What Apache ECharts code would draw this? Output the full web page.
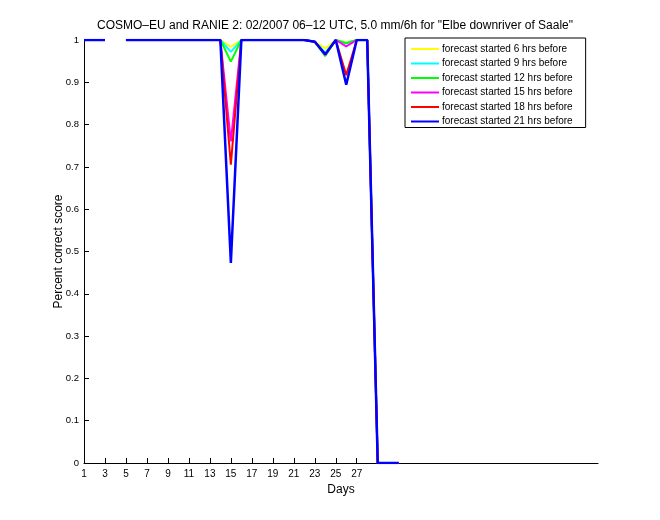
<!DOCTYPE html>
<html><head><meta charset="utf-8">
<script src="https://cdn.jsdelivr.net/npm/echarts@6/dist/echarts.min.js"></script>
<style>html,body{margin:0;padding:0;background:#fff}#c{width:660px;height:520px}</style>
</head><body><div id="c"></div>
<script>
const days = [1,2,3,4,5,6,7,8,9,10,11,12,13,14,15,16,17,18,19,20,21,22,23,24,25,26,27,28,29,30,31];
const xTicks = [1,3,5,7,9,11,13,15,17,19,21,23,25,27];
const seriesNames = ['forecast started 6 hrs before','forecast started 9 hrs before','forecast started 12 hrs before','forecast started 15 hrs before','forecast started 18 hrs before','forecast started 21 hrs before'];
const colors = ['#ffff00','#00ffff','#00ff00','#ff00ff','#ff0000','#0000ff'];
const s6  = [1,1,1,null,1,1,1,1,1,1,1,1,1,1,0.984,1,1,1,1,1,1,1,0.996,0.980,1,0.995,1,1,0,0,0];
const s9  = [1,1,1,null,1,1,1,1,1,1,1,1,1,1,0.972,1,1,1,1,1,1,1,0.996,0.970,1,0.993,1,1,0,0,0];
const s12 = [1,1,1,null,1,1,1,1,1,1,1,1,1,1,0.949,1,1,1,1,1,1,1,0.996,0.962,1,0.992,1,1,0,0,0];
const s15 = [1,1,1,null,1,1,1,1,1,1,1,1,1,1,0.760,1,1,1,1,1,1,1,0.996,0.965,1,0.985,1,1,0,0,0];
const s18 = [1,1,1,null,1,1,1,1,1,1,1,1,1,1,0.705,1,1,1,1,1,1,1,0.996,0.966,1,0.917,1,1,0,0,0];
const s21 = [1,1,1,null,1,1,1,1,1,1,1,1,1,1,0.473,1,1,1,1,1,1,1,0.996,0.966,1,0.894,1,1,0,0,0];
const allSeries = [s6,s9,s12,s15,s18,s21];

const chart = echarts.init(document.getElementById('c'));
const font = 'Liberation Sans, Arial, sans-serif';
chart.setOption({
  animation:false,
  backgroundColor:'#fff',
  title:{text:'COSMO–EU and RANIE 2: 02/2007 06–12 UTC, 5.0 mm/6h for "Elbe downriver of Saale"',
    left:330, textAlign:'center', top:15,
    textStyle:{fontFamily:font,fontSize:12,fontWeight:'normal',color:'#000'}},
  grid:{left:84,right:62,top:40,bottom:57},
  legend:{orient:'vertical',left:405,top:38,
    backgroundColor:'#fff',borderColor:'#000',borderWidth:1,
    padding:[5,13,0,6],itemGap:2.5,itemWidth:28,itemHeight:2,icon:'rect',
    textStyle:{fontFamily:font,fontSize:10,color:'#000',padding:[0,0,0,-2],lineHeight:12},
    data:seriesNames},
  xAxis:{type:'value',min:1,max:50,name:'Days',nameLocation:'middle',nameGap:18,
    nameTextStyle:{fontFamily:font,fontSize:12,color:'#000'},
    axisLine:{lineStyle:{color:'#000',width:1}},
    axisTick:{inside:true,length:5,customValues:xTicks,lineStyle:{color:'#000'}},
    axisLabel:{customValues:xTicks,fontFamily:font,fontSize:10,color:'#000',margin:6},
    splitLine:{show:false}},
  yAxis:{type:'value',min:0,max:1,interval:0.1,name:'Percent correct score',nameLocation:'middle',nameGap:19,
    nameMoveOverlap:false,
    nameTextStyle:{fontFamily:font,fontSize:12,color:'#000'},
    axisLine:{show:true,lineStyle:{color:'#000',width:1}},
    axisTick:{show:true,inside:true,length:5,lineStyle:{color:'#000'}},
    axisLabel:{fontFamily:font,fontSize:9.5,color:'#000',margin:5,
      formatter:v=>String(Math.round(v*10)/10)},
    splitLine:{show:false}},
  series:allSeries.map((arr,i)=>({
    name:seriesNames[i],type:'line',showSymbol:false,symbol:'none',
    connectNulls:false,
    lineStyle:{color:colors[i],width:i===5?2.5:2},
    itemStyle:{color:colors[i]},
    data:days.map((d,j)=>[d,arr[j]])
  }))
});
</script></body></html>
